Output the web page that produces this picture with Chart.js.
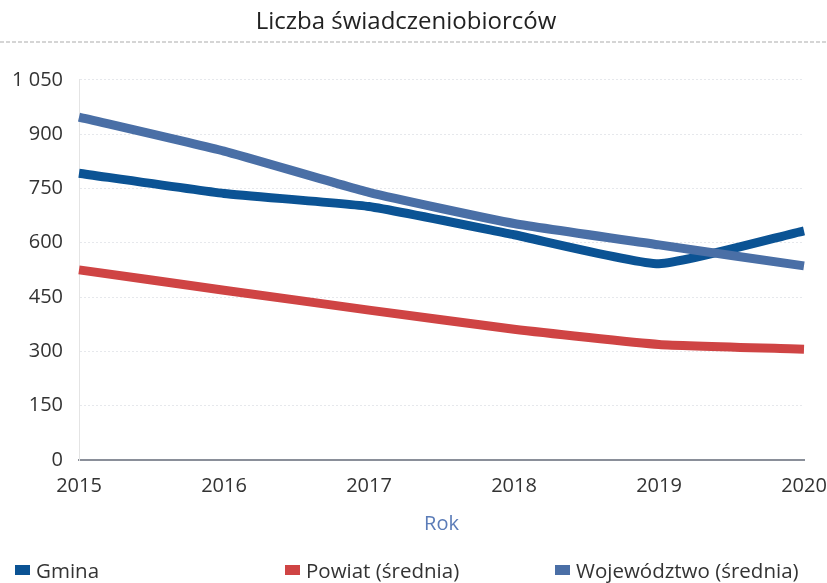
<!DOCTYPE html>
<html>
<head>
<meta charset="utf-8">
<script src="https://cdn.jsdelivr.net/npm/chart.js@4"></script>
<style>
  body { margin: 0; background: #fff; }
  #wrap { position: relative; width: 827px; height: 583px; }
  #legend { position: absolute; left: 0; top: 556px; width: 827px; height: 28px;
            font-family: "Open Sans", sans-serif; font-size: 20.5px; color: #333; }
  .item { position: absolute; top: 0; display: flex; align-items: center; }
  .box { width: 15px; height: 10px; margin-right: 6px; }
</style>
</head>
<body>
<div id="wrap">
  <canvas id="chart" width="827" height="583"></canvas>
  <div id="legend"></div>
</div>
<script>
// data
const years = ["2015", "2016", "2017", "2018", "2019", "2020"]
const gmina = [792, 736, 700, 622, 542, 633]
const powiat = [525, 469, 414, 361, 319, 306]
const wojewodztwo = [947, 853, 739, 653, 594, 536]
const seriesNames = ["Gmina", "Powiat (średnia)", "Województwo (średnia)"]
const seriesColors = ["#0b5394", "#cf4444", "#4a6fa6"]

const FONT = "'Open Sans', sans-serif"

// dashed rule under the title
const titleRule = {
    id: "titleRule",
    afterDraw(chart) {
        var ctx = chart.ctx
        var y = chart.titleBlock.top + 34
        ctx.save()
        ctx.strokeStyle = "#c8c8c8"
        ctx.lineWidth = 1.5
        ctx.setLineDash([4, 2])
        ctx.beginPath()
        ctx.moveTo(0, y)
        ctx.lineTo(chart.width, y)
        ctx.stroke()
        ctx.restore()
    }
}

function makeDataset(i, values) {
    return {
        label: seriesNames[i],
        data: values,
        borderColor: seriesColors[i],
        backgroundColor: seriesColors[i],
        borderWidth: 9,
        pointRadius: 0,
        tension: 0.15,
        borderCapStyle: "butt"
    }
}

const config = {
    type: "line",
    data: {
        labels: years,
        datasets: [
            makeDataset(2, wojewodztwo),
            makeDataset(1, powiat),
            makeDataset(0, gmina)
        ]
    },
    plugins: [titleRule],
    options: {
        responsive: false,
        animation: false,
        layout: { padding: { left: 8, right: 23, top: 8, bottom: 47 } },
        plugins: {
            legend: { display: false },
            tooltip: { enabled: false },
            title: {
                display: true,
                text: "Liczba świadczeniobiorców",
                color: "#222",
                font: { family: FONT, size: 24, weight: "normal" },
                padding: { top: 0, bottom: 43 }
            }
        },
        scales: {
            x: {
                offset: false,
                // let the last year label run into the right margin
                afterFit: function(scale) { scale.paddingRight = 0; scale.paddingLeft = 0 },
                grid: { display: false },
                border: { display: true, color: "#8a8f99", width: 2 },
                ticks: { color: "#333", font: { family: FONT, size: 20 }, padding: 6, maxRotation: 0 },
                title: {
                    display: true,
                    text: "Rok",
                    color: "#5b7cb8",
                    font: { family: FONT, size: 20 },
                    padding: { top: 8, bottom: 0 }
                }
            },
            y: {
                min: 0,
                max: 1050,
                afterFit: function(scale) { scale.width = 71 },
                grid: { color: "#e6e8ec", lineWidth: 1, drawTicks: false },
                border: { display: true, color: "#e4e4e4", dash: [2, 2] },
                ticks: {
                    stepSize: 150,
                    color: "#333",
                    padding: 16,
                    font: { family: FONT, size: 20 },
                    callback: function(v) {
                        return String(v).replace(/\B(?=(\d{3})+(?!\d))/g, " ")
                    }
                }
            }
        }
    }
}

new Chart(document.getElementById("chart"), config)

// html legend, three equal columns
var legendHtml = ""
for (var i = 0; i < seriesNames.length; i++) {
    legendHtml += "<div class='item' style='left:" + (15 + i * 270) + "px'>" +
        "<span class='box' style='background:" + seriesColors[i] + "'></span>" +
        seriesNames[i] + "</div>"
}
document.getElementById("legend").innerHTML = legendHtml
</script>
</body>
</html>
